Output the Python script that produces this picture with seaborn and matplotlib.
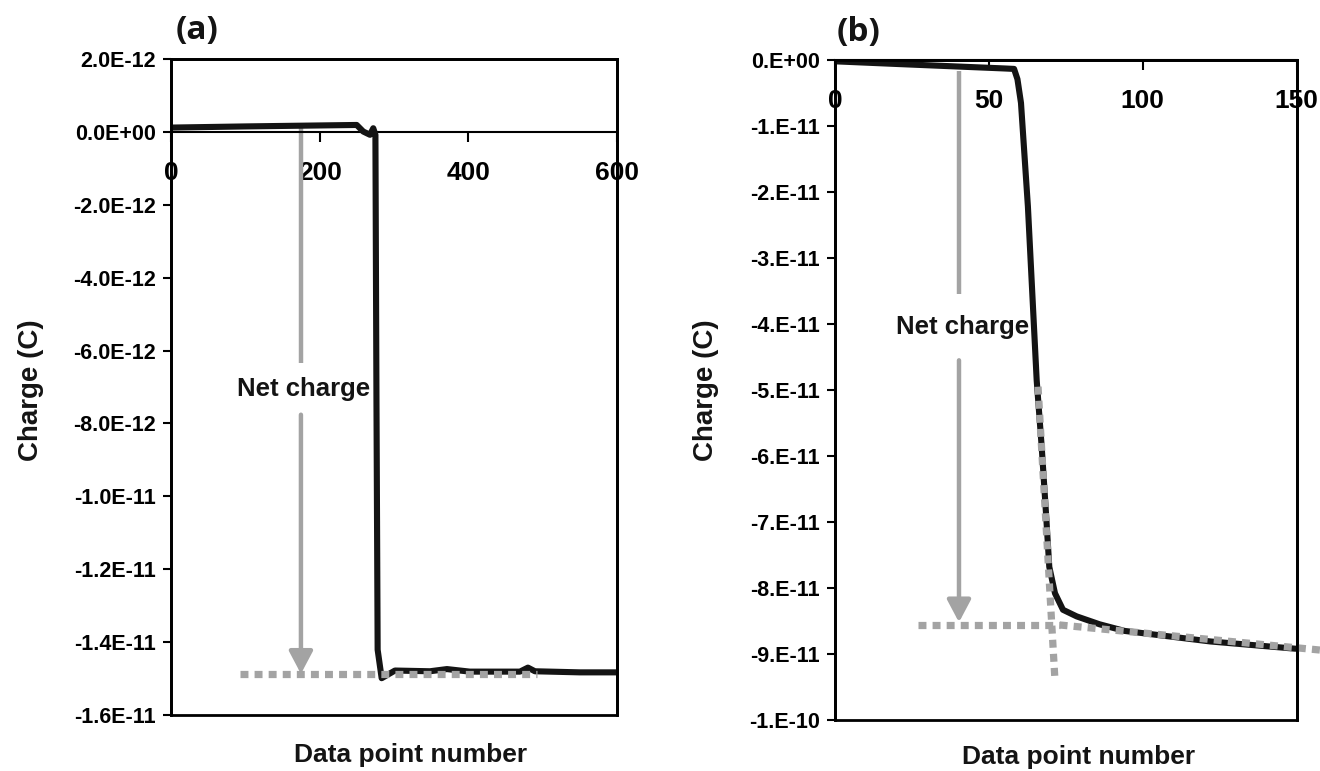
import matplotlib
matplotlib.use("Agg")
import matplotlib.pyplot as plt
from matplotlib.patches import Rectangle
import seaborn as sns

# ---------------- data: panel (a) ----------------
a_point = [0, 100, 249.8, 258.6, 267.7, 272.1, 275, 276.4, 278.0, 283.4,
           301.3, 348.4, 371.2, 402, 469.4, 480.2, 489.6, 550, 600]
a_charge = [0.118e-12, 0.15e-12, 0.19e-12, 0.01e-12, -0.08e-12, 0.10e-12,
            -0.08e-12, -7.35e-12, -14.21e-12, -14.99e-12, -14.78e-12,
            -14.80e-12, -14.74e-12, -14.81e-12, -14.81e-12, -14.70e-12,
            -14.80e-12, -14.83e-12, -14.83e-12]
a_base_x = [92.8, 492.3]
a_base_y = [-14.87e-12, -14.87e-12]
a_arrow_x = 174.8
a_arrow_top, a_arrow_gap_top, a_arrow_gap_bot, a_arrow_tip = 0.19e-12, -6.34e-12, -7.76e-12, -14.87e-12
a_xticks = [0, 200, 400, 600]
a_xticklabels = ["0", "200", "400", "600"]
a_yticks = [2e-12, 0, -2e-12, -4e-12, -6e-12, -8e-12, -1e-11, -1.2e-11, -1.4e-11, -1.6e-11]
a_yticklabels = ["2.0E-12", "0.0E+00", "-2.0E-12", "-4.0E-12", "-6.0E-12",
                 "-8.0E-12", "-1.0E-11", "-1.2E-11", "-1.4E-11", "-1.6E-11"]

# ---------------- data: panel (b) ----------------
b_point = [0, 20, 40, 55, 58.2, 59.3, 60.45, 62.7, 65.55, 67.18, 68.57, 69.65,
           71.5, 74.1, 78.55, 86, 94.1, 122, 149.7]
b_charge = [-0.2e-12, -0.6e-12, -0.99e-12, -1.28e-12, -1.35e-12, -2.9e-12,
            -6.5e-12, -2.22e-11, -4.85e-11, -5.86e-11, -6.86e-11, -7.68e-11,
            -8.08e-11, -8.33e-11, -8.43e-11, -8.55e-11, -8.65e-11, -8.81e-11,
            -8.92e-11]
b_hbase_x = [26.9, 73.0]
b_hbase_y = [-8.56e-11, -8.56e-11]
b_steep_x = [66.0, 71.5]
b_steep_y = [-4.95e-11, -9.40e-11]
b_tail_x = [73.0, 157.6]
b_tail_y = [-8.56e-11, -8.94e-11]
b_arrow_x = 40.3
b_arrow_top, b_arrow_gap_top, b_arrow_gap_bot, b_arrow_tip = -1.6e-12, -3.55e-11, -4.55e-11, -8.52e-11
b_xticks = [0, 50, 100, 150]
b_xticklabels = ["0", "50", "100", "150"]
b_yticks = [0, -1e-11, -2e-11, -3e-11, -4e-11, -5e-11, -6e-11, -7e-11, -8e-11, -9e-11, -1e-10]
b_yticklabels = ["0.E+00", "-1.E-11", "-2.E-11", "-3.E-11", "-4.E-11", "-5.E-11",
                 "-6.E-11", "-7.E-11", "-8.E-11", "-9.E-11", "-1.E-10"]

sns.set_theme(style="white")
plt.rcParams["font.family"] = ["Liberation Sans", "DejaVu Sans"]
plt.rcParams["font.weight"] = "bold"
plt.rcParams["text.color"] = "black"
plt.rcParams["axes.labelcolor"] = "black"
plt.rcParams["xtick.color"] = "black"
plt.rcParams["ytick.color"] = "black"

W, H = 1320, 771
fig = plt.figure(figsize=(W / 100, H / 100), dpi=100)

def fx(px):
    return px / W

def fy(py):
    return 1 - py / H

ax_a = fig.add_axes([fx(171), fy(715), (617 - 171) / W, (715 - 59) / H])
ax_b = fig.add_axes([fx(835), fy(720), (1296.5 - 835) / W, (720 - 60) / H])

BLACK = "#141414"
GREY = "#a3a3a3"
DOT = (0, (1.1, 0.85))


def style_axes(ax, xlim, ylim, xticks, xlabels, yticks, ylabels):
    ax.set_xlim(*xlim)
    ax.set_ylim(*ylim)
    ax.set_facecolor("white")
    for s in ["left", "right", "top"]:
        ax.spines[s].set_visible(True)
        ax.spines[s].set_color("black")
        ax.spines[s].set_linewidth(2.0)
    ax.spines["bottom"].set_position(("data", 0))
    ax.spines["bottom"].set_color("black")
    ax.spines["bottom"].set_linewidth(1.5)
    ax.add_patch(Rectangle((0, 0), 1, 1, transform=ax.transAxes, fill=False,
                           lw=2.0, edgecolor="black", clip_on=False, zorder=5))
    ax.set_xticks(xticks)
    ax.set_xticklabels(xlabels, fontsize=19, fontweight="bold", color="black")
    ax.set_yticks(yticks)
    ax.set_yticklabels(ylabels, fontsize=15.5, fontweight="bold", color="black")
    ax.tick_params(axis="x", direction="out", length=7, width=1.5, pad=14,
                   bottom=True, colors="black")
    ax.tick_params(axis="y", direction="out", length=6, width=1.5, pad=5,
                   left=True, colors="black")
    ax.set_xlabel("")
    ax.set_ylabel("")
    ax.grid(False)


def arrow(ax, x, top, gap_top, gap_bot, tip):
    ax.plot([x, x], [top, gap_top], color=GREY, lw=3.2, solid_capstyle="butt", zorder=2)
    ax.annotate("", xy=(x, tip), xytext=(x, gap_bot),
                arrowprops=dict(arrowstyle="-|>,head_length=0.68,head_width=0.36",
                                color=GREY, lw=3.2, shrinkA=0, shrinkB=0,
                                mutation_scale=20),
                zorder=2)


# ---------- panel (a) ----------
style_axes(ax_a, (0, 600), (-1.6e-11, 2e-12), a_xticks, a_xticklabels, a_yticks, a_yticklabels)
arrow(ax_a, a_arrow_x, a_arrow_top, a_arrow_gap_top, a_arrow_gap_bot, a_arrow_tip)
sns.lineplot(x=a_point, y=a_charge, ax=ax_a, color=BLACK, lw=4.4, zorder=3)
ax_a.plot(a_base_x, a_base_y, color=GREY, lw=5.2, linestyle=DOT, zorder=4)
ax_a.text(a_arrow_x + 4, (a_arrow_gap_top + a_arrow_gap_bot) / 2, "Net charge",
          ha="center", va="center", fontsize=18.5, fontweight="bold", color=BLACK, zorder=3)

# ---------- panel (b) ----------
style_axes(ax_b, (0, 150), (-1e-10, 0), b_xticks, b_xticklabels, b_yticks, b_yticklabels)
arrow(ax_b, b_arrow_x, b_arrow_top, b_arrow_gap_top, b_arrow_gap_bot, b_arrow_tip)
sns.lineplot(x=b_point, y=b_charge, ax=ax_b, color=BLACK, lw=4.4, zorder=3)
ax_b.plot(b_hbase_x, b_hbase_y, color=GREY, lw=5.2, linestyle=DOT, zorder=4)
ax_b.plot(b_steep_x, b_steep_y, color=GREY, lw=5.2, linestyle=DOT, zorder=4)
ax_b.plot(b_tail_x, b_tail_y, color=GREY, lw=5.2, linestyle=DOT, zorder=4, clip_on=False)
ax_b.text(b_arrow_x + 1, (b_arrow_gap_top + b_arrow_gap_bot) / 2, "Net charge",
          ha="center", va="center", fontsize=18.5, fontweight="bold", color=BLACK, zorder=3)

# ---------- labels ----------
fig.text(fx(31), fy(390), "Charge (C)", rotation=90, ha="center", va="center",
         fontsize=20, fontweight="bold", color=BLACK)
fig.text(fx(706), fy(390), "Charge (C)", rotation=90, ha="center", va="center",
         fontsize=20, fontweight="bold", color=BLACK)
fig.text(fx(411), fy(755), "Data point number", ha="center", va="center",
         fontsize=19, fontweight="bold", color=BLACK)
fig.text(fx(1079), fy(757), "Data point number", ha="center", va="center",
         fontsize=19, fontweight="bold", color=BLACK)
fig.text(fx(197.5), fy(31), "(a)", ha="center", va="center", fontsize=24,
         fontweight="bold", color=BLACK, family=["Open Sans", "DejaVu Sans"])
fig.text(fx(859), fy(32), "(b)", ha="center", va="center", fontsize=24,
         fontweight="bold", color=BLACK, family=["Open Sans", "DejaVu Sans"])

fig.savefig("out.png", dpi=100, facecolor="white")
